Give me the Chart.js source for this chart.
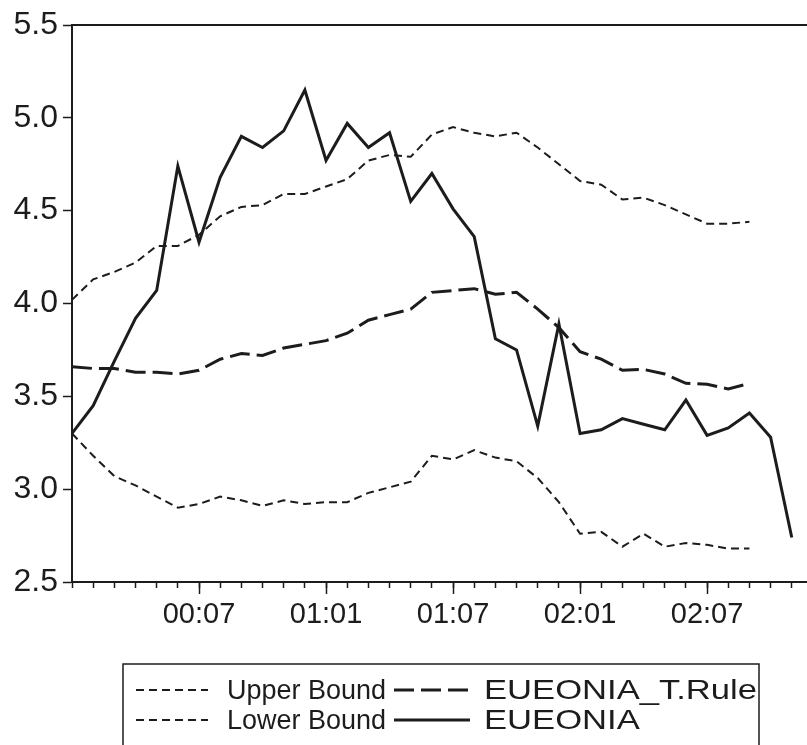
<!DOCTYPE html>
<html>
<head>
<meta charset="utf-8">
<script src="https://cdn.jsdelivr.net/npm/chart.js@4.4.1/dist/chart.umd.min.js"></script>
<style>
  html, body { margin: 0; padding: 0; background: #fff; }
  #wrap { position: relative; width: 807px; height: 745px; }
</style>
</head>
<body>
<div id="wrap"><canvas id="chart-eonia" width="807" height="745"></canvas></div>
<script>
// monthly observations, yy:mm
const months = ['00:01','00:02','00:03','00:04','00:05','00:06','00:07','00:08','00:09','00:10','00:11','00:12',
                '01:01','01:02','01:03','01:04','01:05','01:06','01:07','01:08','01:09','01:10','01:11','01:12',
                '02:01','02:02','02:03','02:04','02:05','02:06','02:07','02:08','02:09','02:10','02:11'];
const xLabels = ['00:07','01:01','01:07','02:01','02:07'];
const yTicks = [2.5, 3.0, 3.5, 4.0, 4.5, 5.0, 5.5];

const upperBound = [4.02,4.13,4.17,4.22,4.31,4.31,4.37,4.47,4.52,4.53,4.59,4.59,4.63,4.67,4.77,4.80,4.79,4.91,
                    4.95,4.92,4.90,4.92,4.84,4.75,4.66,4.64,4.56,4.57,4.53,4.48,4.43,4.43,4.44];
const lowerBound = [3.30,3.18,3.07,3.02,2.96,2.90,2.92,2.96,2.94,2.91,2.94,2.92,2.93,2.93,2.98,3.01,3.04,3.18,
                    3.16,3.21,3.17,3.15,3.06,2.93,2.76,2.77,2.69,2.76,2.69,2.71,2.70,2.68,2.68];
const tRule      = [3.66,3.65,3.65,3.63,3.63,3.62,3.64,3.70,3.73,3.72,3.76,3.78,3.80,3.84,3.91,3.94,3.97,4.06,
                    4.07,4.08,4.05,4.06,3.97,3.87,3.74,3.70,3.64,3.645,3.62,3.57,3.565,3.54,3.57];
const eueonia    = [3.30,3.45,3.69,3.92,4.07,4.74,4.33,4.68,4.90,4.84,4.93,5.15,4.77,4.97,4.84,4.92,4.55,4.70,
                    4.51,4.36,3.81,3.75,3.34,3.89,3.30,3.32,3.38,3.35,3.32,3.48,3.29,3.33,3.41,3.28,2.74];

const ink = '#1c1c1c';
const fontFamily = "'Liberation Sans', Arial, sans-serif";
const toPoints = arr => arr.map((v, i) => ({ x: i, y: v }));

const line = (label, data, dash, width) => ({
  label, data: toPoints(data), borderColor: ink, borderWidth: width, borderDash: dash,
  pointRadius: 0, fill: false, tension: 0
});

// top frame line and the long ticks at the labelled months
const frame = {
  id: 'frame',
  afterDraw(chart) {
    const { ctx, chartArea: a, scales: { x } } = chart;
    ctx.save();
    ctx.strokeStyle = ink;
    ctx.lineWidth = 2;
    ctx.beginPath();
    ctx.moveTo(a.left - 1, a.top);
    ctx.lineTo(chart.width, a.top);
    ctx.stroke();
    ctx.lineWidth = 1.5;
    months.forEach((m, i) => {
      if (!xLabels.includes(m)) return;
      const px = Math.round(x.getPixelForValue(i)) + 0.5;
      ctx.beginPath();
      ctx.moveTo(px, a.bottom);
      ctx.lineTo(px, a.bottom + 12);
      ctx.stroke();
    });
    ctx.restore();
  }
};

// boxed legend under the axis, two columns; text is stretched to fill its column
const boxLegend = {
  id: 'boxLegend',
  afterDraw(chart) {
    const { ctx } = chart;
    const ds = chart.data.datasets;
    const rows = [[0, 2], [1, 3]];
    const left = 123, top = 664, right = 759;
    const cols = [{ line: 136, len: 72, text: 227, end: 386 }, { line: 394, len: 76, text: 484, end: 757 }];
    const rowY = [690, 720];
    ctx.save();
    ctx.strokeStyle = ink;
    ctx.lineWidth = 1.5;
    ctx.beginPath();
    ctx.moveTo(left, chart.height + 2);
    ctx.lineTo(left, top);
    ctx.lineTo(right, top);
    ctx.lineTo(right, chart.height + 2);
    ctx.stroke();

    ctx.font = '28px ' + fontFamily;
    ctx.fillStyle = ink;
    ctx.textBaseline = 'middle';
    cols.forEach((col, c) => {
      const widest = Math.max(...rows.map(r => ctx.measureText(ds[r[c]].label).width));
      const sx = (col.end - col.text) / widest;
      rows.forEach((row, r) => {
        const d = ds[row[c]];
        const y = rowY[r];
        ctx.setLineDash(d.borderDash || []);
        ctx.lineWidth = d.borderWidth;
        ctx.beginPath();
        ctx.moveTo(col.line, y);
        ctx.lineTo(col.line + col.len, y);
        ctx.stroke();
        ctx.setLineDash([]);
        ctx.save();
        ctx.translate(col.text, y + 1);
        ctx.scale(sx, 1);
        ctx.fillText(d.label, 0, 0);
        ctx.restore();
      });
    });
    ctx.restore();
  }
};

new Chart(document.getElementById('chart-eonia'), {
  type: 'line',
  data: {
    datasets: [
      line('Upper Bound', upperBound, [8, 5], 2),
      line('Lower Bound', lowerBound, [8, 5], 2),
      line('EUEONIA_T.Rule', tRule, [20, 7], 3),
      line('EUEONIA', eueonia, [], 3)
    ]
  },
  options: {
    responsive: false,
    animation: false,
    devicePixelRatio: 1,
    layout: { padding: { top: 25, right: 0, left: 0, bottom: 0 } },
    plugins: { legend: { display: false }, tooltip: { enabled: false } },
    scales: {
      x: {
        type: 'linear',
        min: 0,
        max: 34.72,
        afterFit: s => { s.height = 163; },
        border: { display: true, color: ink, width: 2 },
        grid: { drawOnChartArea: false, tickLength: 6, tickWidth: 1.5, tickColor: ink },
        ticks: {
          stepSize: 1, includeBounds: false, autoSkip: false, maxRotation: 0,
          padding: 10, color: ink, font: { family: fontFamily, size: 29 },
          callback: v => xLabels.includes(months[v]) ? months[v] : ''
        }
      },
      y: {
        min: yTicks[0],
        max: yTicks[yTicks.length - 1],
        afterFit: s => { s.width = 72; },
        afterBuildTicks: s => { s.ticks = yTicks.map(v => ({ value: v })); },
        border: { display: true, color: ink, width: 2 },
        grid: { drawOnChartArea: false, tickLength: 9, tickWidth: 1.5, tickColor: ink },
        ticks: { padding: 5, color: ink, font: { family: fontFamily, size: 32 }, callback: v => v.toFixed(1) }
      }
    }
  },
  plugins: [frame, boxLegend]
});
</script>
</body>
</html>
